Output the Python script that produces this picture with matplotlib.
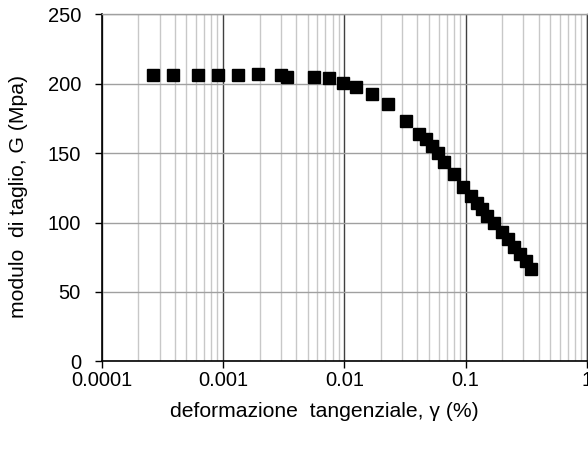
import matplotlib
matplotlib.use("Agg")
import matplotlib.pyplot as plt
from matplotlib.ticker import LogLocator, FixedLocator, FixedFormatter, NullFormatter

plt.rcParams["font.family"] = ["Liberation Sans", "DejaVu Sans"]

# shear strain (%) and shear modulus (MPa)
gamma = [2.66e-4, 3.89e-4, 6.19e-4, 9.04e-4, 1.34e-3, 1.95e-3, 2.99e-3, 3.35e-3,
         5.66e-3, 7.48e-3, 9.70e-3, 0.0125, 0.0170, 0.0231, 0.0321, 0.0415,
         0.0472, 0.0532, 0.0596, 0.0668, 0.0807, 0.0958, 0.110, 0.124, 0.137,
         0.151, 0.173, 0.199, 0.222, 0.252, 0.281, 0.315, 0.346]
G = [206.3, 206.3, 206.3, 206.3, 206.3, 207.0, 206.3, 205.1,
     204.7, 204.0, 200.4, 197.5, 192.4, 185.2, 173.2, 163.8,
     160.0, 154.9, 149.9, 143.4, 135.0, 125.4, 119.3, 114.3, 109.7,
     104.9, 99.4, 93.4, 87.9, 82.6, 77.3, 72.4, 66.3]

x_ticks = [0.0001, 0.001, 0.01, 0.1, 1]
x_labels = ["0.0001", "0.001", "0.01", "0.1", "1"]
y_ticks = [0, 50, 100, 150, 200, 250]

FS_TICK = 14.5
FS_LABEL = 15.2

fig = plt.figure(figsize=(5.88, 4.51), dpi=100)
ax = fig.add_axes([0.173, 0.199, 0.825, 0.769])

ax.set_xscale("log")
ax.set_xlim(1e-4, 1)
ax.set_ylim(0, 250)

ax.xaxis.set_major_locator(FixedLocator(x_ticks))
ax.xaxis.set_major_formatter(FixedFormatter(x_labels))
ax.xaxis.set_minor_locator(LogLocator(base=10, subs=range(2, 10), numticks=20))
ax.xaxis.set_minor_formatter(NullFormatter())
ax.set_yticks(y_ticks)

# grid
ax.grid(True, which="minor", axis="x", color="#c8c8c8", linewidth=1.0, zorder=0)
ax.grid(True, which="major", axis="x", color="#404040", linewidth=1.0, zorder=1)
ax.grid(True, which="major", axis="y", color="#a0a0a0", linewidth=1.0, zorder=1)
ax.set_axisbelow(True)

for s in ["left", "bottom"]:
    ax.spines[s].set_color("black")
    ax.spines[s].set_linewidth(1.2)
ax.spines["top"].set_color("#a0a0a0")
ax.spines["top"].set_linewidth(1.0)
ax.spines["right"].set_color("#404040")
ax.spines["right"].set_linewidth(1.0)

ax.tick_params(axis="both", which="major", direction="out", length=5,
               width=1, labelsize=FS_TICK, colors="black")
ax.tick_params(axis="y", which="major", pad=10)
ax.tick_params(axis="x", which="major", pad=2)
ax.tick_params(axis="x", which="minor", length=0)

ax.plot(gamma, G, linestyle="none", marker="s", markersize=9,
        color="black", zorder=5, clip_on=False)

ax.set_xlabel("deformazione  tangenziale, γ (%)", fontsize=FS_LABEL)
ax.set_ylabel("modulo  di taglio, G (Mpa)", fontsize=FS_LABEL)
ax.xaxis.label.set_va("center")
ax.yaxis.label.set_va("center")
ax.xaxis.set_label_coords(0.458, -0.144)
ax.yaxis.set_label_coords(-0.172, 0.476)

fig.savefig("out.png", dpi=100)
